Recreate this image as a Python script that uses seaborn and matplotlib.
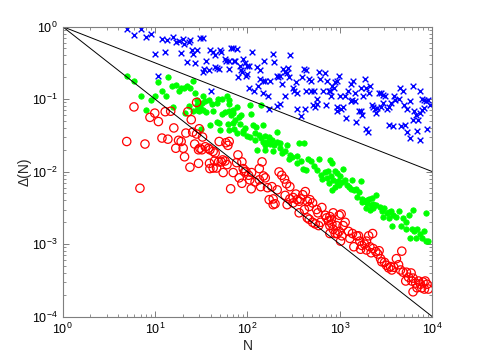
import numpy as np
import pandas as pd
import matplotlib
matplotlib.use("Agg")
import matplotlib.pyplot as plt
import matplotlib.ticker as mticker
import seaborn as sns

# ======================================================
# DATA
# ======================================================
blue_n = [5, 6, 7, 8, 9, 12, 10, 13, 13.5, 15.7, 16.8, 18, 20.2, 20.6, 23.5, 18.9, 22, 25.1, 25.9, 27.3,
          28.2, 10.9, 23.9, 30.6, 32.7, 36.1, 34.3, 33.2, 38, 39.3, 42.6, 44.8, 50.4, 52.1, 44.1, 46.4,
          48.8, 56.6, 58.5, 62.6, 63.5, 65.9, 70.2, 76.4, 71.5, 73.7, 83, 84.5, 87.2, 90.1, 94.7, 97.9,
          103, 96.3, 99.6, 79, 111, 126, 137, 151, 104, 117, 130, 137, 147, 156, 167, 149, 175, 172,
          190, 196, 207, 214, 224, 235, 210, 224, 243, 252, 265, 279, 256, 274, 288, 312, 334, 323,
          340, 345, 377, 389, 414, 435, 423, 435, 466, 483, 490, 524, 541, 560, 569, 597, 608, 660,
          683, 705, 727, 755, 780, 820, 862, 890, 923, 937, 968, 806, 1033, 1085, 1161, 1000, 1141,
          1221, 1306, 1392, 1441, 1325, 1467, 1593, 1675, 1729, 1675, 1785, 1848, 1910, 2050, 2110,
          2218, 2289, 2410, 2448, 2536, 2620, 2755, 2897, 3090, 2897, 2795, 3197, 3370, 3532, 3833,
          3956, 4317, 4450, 4763, 4915, 5330, 5710, 6190, 6400, 6620, 7320, 7830, 8220, 8640, 9070,
          8220, 9390, 7450, 1370, 1488, 1942, 2010, 3370, 3713, 4530, 5060, 5330, 5810, 6110, 6840,
          6980, 7450, 7690, 8780, 507, 923, 40.6]
blue_d = [0.92, 0.77, 0.93, 0.72, 0.79, 0.68, 0.42, 0.45, 0.66, 0.72, 0.62, 0.63, 0.67, 0.58, 0.62, 0.43,
          0.32, 0.48, 0.42, 0.31, 0.47, 0.21, 0.66, 0.69, 0.69, 0.34, 0.26, 0.24, 0.25, 0.48, 0.44,
          0.41, 0.48, 0.45, 0.28, 0.27, 0.26, 0.36, 0.34, 0.34, 0.26, 0.51, 0.50, 0.49, 0.34, 0.33,
          0.29, 0.25, 0.24, 0.36, 0.31, 0.29, 0.29, 0.21, 0.22, 0.20, 0.45, 0.28, 0.25, 0.33, 0.14,
          0.13, 0.15, 0.19, 0.18, 0.18, 0.11, 0.12, 0.18, 0.074, 0.42, 0.32, 0.21, 0.20, 0.21, 0.16,
          0.081, 0.086, 0.26, 0.24, 0.23, 0.20, 0.11, 0.27, 0.40, 0.14, 0.17, 0.13, 0.12, 0.074, 0.059,
          0.20, 0.26, 0.25, 0.074, 0.13, 0.19, 0.18, 0.13, 0.13, 0.078, 0.10, 0.086, 0.24, 0.19, 0.13,
          0.23, 0.082, 0.18, 0.13, 0.13, 0.15, 0.14, 0.17, 0.18, 0.068, 0.21, 0.11, 0.073, 0.078,
          0.055, 0.11, 0.11, 0.13, 0.16, 0.18, 0.12, 0.095, 0.095, 0.069, 0.068, 0.061, 0.14, 0.11,
          0.19, 0.14, 0.12, 0.15, 0.084, 0.078, 0.073, 0.065, 0.076, 0.12, 0.12, 0.115, 0.11, 0.088,
          0.078, 0.074, 0.078, 0.088, 0.11, 0.098, 0.10, 0.14, 0.13, 0.082, 0.073, 0.095, 0.15, 0.069,
          0.060, 0.13, 0.10, 0.098, 0.095, 0.098, 0.076, 0.082, 0.064, 0.098, 0.048, 0.039, 0.035,
          0.044, 0.043, 0.042, 0.044, 0.035, 0.029, 0.052, 0.036, 0.051, 0.027, 0.071, 0.039, 0.084,
          0.078, 0.13]

green_n = [4.95, 5.93, 7.0, 8.99, 10.1, 10.9, 11.9, 13.1, 14.0, 15.2, 16.8, 18.0, 18.9, 20.6, 22.3, 23.9,
           25.6, 26.9, 28.2, 8.0, 15.7, 23.1, 28.2, 21.2, 33.2, 35.0, 38, 41.3, 48, 53, 60.2, 62.6,
           69.2, 77.6, 84.5, 106, 139, 30.6, 33.2, 42.6, 28.2, 32.2, 46.4, 63.5, 25.9, 29.6, 36.1, 53,
           56.6, 62.6, 70.2, 80.4, 73.7, 65.9, 110, 39.3, 47.3, 48.8, 61.5, 69.2, 83, 93.2, 90.1, 115,
           124, 149, 31.6, 50.4, 62.6, 71.5, 76.4, 88.7, 99.6, 108, 121, 133, 154, 141, 171, 207, 147,
           161, 175, 184, 193, 210, 224, 156, 121, 126, 156, 187, 228, 235, 256, 269, 288, 279, 307,
           340, 363, 409, 345, 377, 401, 435, 452, 490, 524, 560, 590, 619, 639, 683, 718, 742, 780,
           806, 847, 877, 923, 968, 766, 820, 923, 1000, 1085, 951, 1051, 1141, 1199, 1260, 1349,
           1700, 1325, 1417, 1488, 1593, 1537, 1729, 1757, 1848, 1974, 2073, 2218, 2490, 1910, 2148,
           2289, 2706, 2844, 2990, 3197, 3370, 3532, 3763, 4375, 2940, 3370, 4763, 5530, 6190, 8640,
           820, 890, 1974, 2110, 2289, 2490, 4090, 3647, 5250, 6000, 6400, 6840, 7320, 7690, 8220,
           5810, 6620, 8490, 9070, 5250, 4600]
green_d = [0.21, 0.18, 0.11, 0.098, 0.11, 0.17, 0.13, 0.11, 0.20, 0.15, 0.155, 0.13, 0.14, 0.14, 0.15,
           0.14, 0.18, 0.12, 0.098, 0.071, 0.078, 0.081, 0.071, 0.064, 0.11, 0.095, 0.098, 0.086, 0.10,
           0.10, 0.11, 0.086, 0.071, 0.078, 0.060, 0.082, 0.082, 0.078, 0.071, 0.069, 0.084, 0.088,
           0.088, 0.098, 0.068, 0.068, 0.067, 0.063, 0.067, 0.068, 0.064, 0.057, 0.052, 0.060, 0.063,
           0.044, 0.048, 0.047, 0.045, 0.047, 0.045, 0.040, 0.036, 0.044, 0.041, 0.044, 0.039, 0.038,
           0.038, 0.039, 0.034, 0.034, 0.031, 0.030, 0.034, 0.032, 0.031, 0.029, 0.030, 0.035, 0.026,
           0.026, 0.024, 0.027, 0.023, 0.026, 0.025, 0.023, 0.027, 0.020, 0.020, 0.019, 0.021, 0.018,
           0.019, 0.023, 0.017, 0.015, 0.016, 0.0165, 0.025, 0.025, 0.013, 0.014, 0.011, 0.0106,
           0.015, 0.014, 0.012, 0.0106, 0.015, 0.0091, 0.0079, 0.0099, 0.0082, 0.0101, 0.0145, 0.0087,
           0.0077, 0.0101, 0.0071, 0.0066, 0.0069, 0.013, 0.0097, 0.0086, 0.011, 0.0074, 0.0072,
           0.0077, 0.0065, 0.0061, 0.0077, 0.0075, 0.0057, 0.0055, 0.0057, 0.0053, 0.0045, 0.0042,
           0.0038, 0.0039, 0.0041, 0.0042, 0.0043, 0.0048, 0.0031, 0.0035, 0.0031, 0.0032, 0.0029,
           0.0031, 0.0027, 0.0028, 0.0029, 0.0025, 0.0029, 0.0024, 0.0023, 0.0023, 0.0025, 0.0030,
           0.0027, 0.0056, 0.0061, 0.0037, 0.0030, 0.0036, 0.0035, 0.0024, 0.0018, 0.0020, 0.0016,
           0.0015, 0.0016, 0.0014, 0.0012, 0.0015, 0.0012, 0.0012, 0.0011, 0.0011, 0.0016, 0.0018]

red_n = [5.93, 9.95, 12.9, 14.8, 8.83, 22.7, 28.2, 4.95, 7.8, 6.88, 10.9, 16.0, 11.9, 13.8, 16.8, 18.0,
         19.2, 20.2, 20.9, 21.6, 24.7, 25.6, 26.9, 28.2, 29.6, 29.6, 23.9, 30.1, 32.7, 30.6, 32.2, 35.0,
         38, 39.3, 42.6, 44.8, 49.5, 58.5, 63.5, 61.5, 79, 38.9, 44.1, 48.8, 52.1, 54, 57.3, 60.2,
         39.3, 42.6, 46.4, 54.7, 70.2, 76.4, 87.2, 90.1, 93.2, 96.3, 103, 111, 134.5, 144, 106, 121,
         134.5, 149, 156, 65.9, 81.5, 87.2, 110, 139, 165, 184, 210, 220, 235, 252, 265, 288, 172,
         190, 199, 256, 288, 312, 334, 345, 377, 397, 423, 445, 474, 414, 466, 560, 639, 696, 780,
         445, 190, 269, 312, 363, 507, 363, 466, 507, 541, 579, 590, 619, 718, 755, 780, 820, 847,
         890, 937, 983, 923, 806, 1033, 983, 1085, 1141, 1051, 1018, 1240, 1283, 1370, 1417, 1515,
         1593, 1645, 1729, 1675, 1848, 1942, 2050, 2260, 2110, 1942, 2180, 2289, 2448, 2574, 2660,
         2755, 2844, 3046, 3197, 3370, 3532, 3647, 3833, 4090, 4317, 4677, 4530, 4830, 5250, 5530,
         5900, 6190, 5160, 6000, 6620, 7100, 7450, 7690, 7940, 8380, 8780, 9070, 6190, 6840, 8220,
         780, 847]
red_d = [0.078, 0.064, 0.067, 0.068, 0.056, 0.067, 0.090, 0.026, 0.024, 0.0059, 0.049, 0.040, 0.029, 0.028,
         0.021, 0.027, 0.026, 0.021, 0.016, 0.034, 0.052, 0.035, 0.024, 0.033, 0.020, 0.013, 0.0115,
         0.039, 0.030, 0.021, 0.020, 0.022, 0.021, 0.020, 0.019, 0.018, 0.026, 0.025, 0.026, 0.023,
         0.017, 0.013, 0.014, 0.0136, 0.0136, 0.0145, 0.014, 0.0125, 0.011, 0.0112, 0.0112, 0.0097,
         0.0097, 0.0133, 0.0136, 0.011, 0.0099, 0.0101, 0.0089, 0.0097, 0.011, 0.0136, 0.0077,
         0.0072, 0.0077, 0.0087, 0.0082, 0.0058, 0.0082, 0.0069, 0.0058, 0.0062, 0.0060, 0.0062,
         0.0056, 0.0099, 0.0089, 0.0079, 0.0068, 0.0062, 0.0041, 0.0042, 0.0036, 0.0047, 0.0042,
         0.0044, 0.0049, 0.0041, 0.0042, 0.0048, 0.0053, 0.0039, 0.0041, 0.0030, 0.0033, 0.0030,
         0.0032, 0.0025, 0.0024, 0.0023, 0.0035, 0.0035, 0.0037, 0.0039, 0.0037, 0.0027, 0.0022,
         0.0020, 0.0019, 0.0027, 0.0018, 0.0020, 0.0023, 0.0021, 0.0018, 0.0019, 0.0016, 0.0014,
         0.0014, 0.0025, 0.0018, 0.0022, 0.0026, 0.0015, 0.0018, 0.0020, 0.0013, 0.0011, 0.0015,
         0.0012, 0.0014, 0.00092, 0.0013, 0.0013, 0.0011, 0.00096, 0.00085, 0.0010, 0.0011, 0.0013,
         0.0014, 0.00092, 0.00083, 0.00076, 0.00087, 0.00079, 0.00073, 0.00081, 0.00063, 0.00057,
         0.00056, 0.00051, 0.00047, 0.00049, 0.00044, 0.00048, 0.00063, 0.00052, 0.00080, 0.00044,
         0.00041, 0.00041, 0.00035, 0.00040, 0.00034, 0.00031, 0.00031, 0.00029, 0.00031, 0.00028,
         0.00025, 0.00030, 0.00031, 0.00028, 0.00024, 0.00022, 0.00025, 0.00024, 0.0014, 0.0027]

# reference power laws N^-1/2 and N^-1
line_n = [1, 1e4]
line_half = [1, 1e-2]
line_one = [1, 1e-4]

blue = pd.DataFrame({"N": blue_n, "D": blue_d})
green = pd.DataFrame({"N": green_n, "D": green_d})
red = pd.DataFrame({"N": red_n, "D": red_d})

# ======================================================
# STYLE
# ======================================================
sns.set_style("white")
plt.rcParams["font.family"] = ["Liberation Sans", "DejaVu Sans"]
plt.rcParams["xtick.direction"] = "in"
plt.rcParams["ytick.direction"] = "in"
plt.rcParams["axes.edgecolor"] = "#7f7f7f"
plt.rcParams["xtick.color"] = "#7f7f7f"
plt.rcParams["ytick.color"] = "#7f7f7f"

fig = plt.figure(figsize=(4.79, 3.59), dpi=100)
ax = fig.add_axes([0.1305, 0.118, 0.772, 0.808])

sns.lineplot(x=line_n, y=line_half, color="black", linewidth=0.7, ax=ax)
sns.lineplot(x=line_n, y=line_one, color="black", linewidth=0.7, ax=ax)

sns.scatterplot(data=blue, x="N", y="D", marker="x", s=17, color="#0000ff",
                linewidth=1.0, ax=ax)
sns.scatterplot(data=green, x="N", y="D", marker="o", s=15, color="#00ff00",
                edgecolor="#00ff00", linewidth=0.6, ax=ax)
sns.scatterplot(data=red, x="N", y="D", marker="o", s=36, facecolor="none",
                edgecolor="#ff0000", linewidth=0.9, ax=ax)

ax.set_xscale("log")
ax.set_yscale("log")
ax.set_xlim(1, 1e4)
ax.set_ylim(1e-4, 1)
ax.set_xticks([1, 10, 100, 1000, 10000])
ax.set_yticks([1e-4, 1e-3, 1e-2, 1e-1, 1])
ax.xaxis.set_minor_locator(mticker.LogLocator(base=10, subs=np.arange(2, 10), numticks=20))
ax.yaxis.set_minor_locator(mticker.LogLocator(base=10, subs=np.arange(2, 10), numticks=20))
ax.xaxis.set_minor_formatter(mticker.NullFormatter())
ax.yaxis.set_minor_formatter(mticker.NullFormatter())
ax.tick_params(which="both", bottom=True, left=True, top=True, right=True,
               labelsize=9, labelcolor="black")
ax.tick_params(which="major", length=4, width=0.7)
ax.tick_params(which="minor", length=2.5, width=0.6)
for sp in ax.spines.values():
    sp.set_linewidth(0.8)

ax.set_xlabel("N", fontsize=10, labelpad=2)
ax.set_ylabel("Δ(N)", fontsize=10, labelpad=0)

fig.savefig("out.png", dpi=100)
